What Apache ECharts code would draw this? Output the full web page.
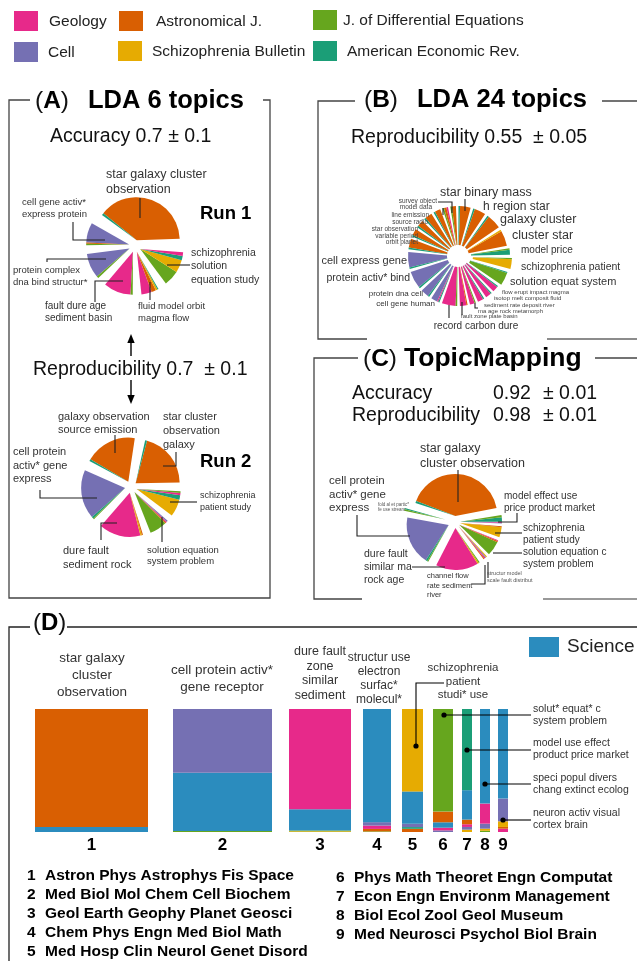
<!DOCTYPE html>
<html><head><meta charset="utf-8">
<script src="https://cdn.jsdelivr.net/npm/echarts@6/dist/echarts.min.js"></script>
<style>html,body{margin:0;padding:0;background:#fff}#c{width:637px;height:961px}</style>
</head><body><div id="c"></div>
<script>
// ---------------- DATA ----------------
const journalKeys = ['geo', 'astro', 'diffeq', 'cell', 'schizo', 'aer'];
const journalNames = ['Geology', 'Astronomical J.', 'J. of Differential Equations', 'Cell', 'Schizophrenia Bulletin', 'American Economic Rev.'];
const journalColors = ['#e7298a', '#d95f02', '#66a61e', '#7570b3', '#e6ab02', '#1b9e77'];
const scienceName = 'Science';
const scienceColor = '#2b8cbe';

// Pie topics: each topic = list of [journal, share in degrees], counter-clockwise order
const run1Topics = [
  [['astro', 139], ['aer', 3]],
  [['cell', 27], ['astro', 1.5], ['diffeq', 2]],
  [['cell', 33], ['diffeq', 3]],
  [['geo', 37], ['diffeq', 3]],
  [['geo', 14], ['astro', 6], ['schizo', 2.5], ['aer', 1.5]],
  [['diffeq', 21], ['schizo', 17], ['aer', 6], ['geo', 5]]
];
const run2Topics = [
  [['astro', 74], ['aer', 2.5]],
  [['astro', 68], ['aer', 2.5]],
  [['cell', 65], ['aer', 2.5], ['diffeq', 1.5]],
  [['geo', 55], ['schizo', 2], ['astro', 1.5]],
  [['diffeq', 23], ['astro', 1.5], ['geo', 1.5], ['cell', 1.5]],
  [['schizo', 23], ['aer', 6], ['geo', 3], ['diffeq', 2]]
];
const lda24Topics = [
  [['aer', 6], ['diffeq', 2]],            // model price
  [['astro', 19], ['schizo', 2]],         // cluster star
  [['astro', 18], ['aer', 2]],            // galaxy cluster
  [['astro', 14], ['aer', 2]],            // h region star
  [['astro', 13], ['aer', 2]],            // star binary mass
  [['astro', 5], ['diffeq', 2]],          // survey object
  [['geo', 2], ['astro', 3], ['diffeq', 2]], // model data
  [['astro', 7], ['aer', 2]],             // line emission
  [['astro', 9], ['aer', 2]],             // source radio
  [['astro', 8], ['aer', 2]],             // star observation
  [['astro', 8], ['aer', 2]],             // variable period
  [['astro', 11], ['aer', 2]],            // orbit planet
  [['cell', 19], ['aer', 2]],             // cell express gene
  [['cell', 21], ['aer', 2]],             // protein activ* bind
  [['cell', 10], ['aer', 2]],             // protein dna cell
  [['cell', 8], ['geo', 1.5], ['aer', 1.5]], // cell gene human
  [['geo', 17], ['diffeq', 2]],           // record carbon dure
  [['geo', 8], ['astro', 1.5]],           // fault zone plate basin
  [['geo', 6], ['diffeq', 1.5]],          // ma age rock metamorph
  [['geo', 7], ['aer', 1.5]],             // sediment rate deposit river
  [['geo', 7], ['aer', 1.5]],             // isotop melt composit fluid
  [['geo', 7], ['aer', 1.5]],             // flow erupt impact magma
  [['diffeq', 16], ['aer', 1.5]],         // solution equat system
  [['schizo', 12], ['diffeq', 1.5]]       // schizophrenia patient
];
const tmTopics = [
  [['astro', 148], ['aer', 3]],
  [['aer', 2], ['diffeq', 2]],
  [['cell', 67], ['aer', 2.5], ['diffeq', 1.5]],
  [['geo', 59], ['schizo', 2], ['diffeq', 1.5]],
  [['astro', 1.5], ['geo', 1.5], ['cell', 1.5], ['schizo', 1.5]],
  [['diffeq', 20], ['astro', 2], ['geo', 1]],
  [['schizo', 14], ['astro', 1.5]],
  [['cell', 1], ['geo', 1.5], ['aer', 6], ['diffeq', 3]]
];

// Panel D: cluster sizes and journal composition (percent, bottom -> top)
const barNumbers = ['1', '2', '3', '4', '5', '6', '7', '8', '9'];
const barSizes = [113, 99, 62, 28, 21, 20, 10, 10, 10];
const barParts = [
  [['sci', 4], ['astro', 96]],
  [['diffeq', 0.8], ['sci', 47.4], ['cell', 51.8]],
  [['schizo', 0.6], ['diffeq', 0.6], ['sci', 17.3], ['geo', 81.5]],
  [['diffeq', 0.5], ['astro', 2], ['geo', 2.7], ['cell', 2.8], ['sci', 92]],
  [['astro', 2.6], ['aer', 1.4], ['cell', 2.7], ['sci', 26.3], ['schizo', 67]],
  [['cell', 1.3], ['geo', 2.2], ['sci', 4.4], ['astro', 8.7], ['diffeq', 83.4]],
  [['schizo', 1.9], ['cell', 2.2], ['geo', 2.2], ['astro', 3.8], ['sci', 23.9], ['aer', 66]],
  [['diffeq', 1], ['schizo', 1.7], ['cell', 4.1], ['geo', 16.3], ['sci', 76.9]],
  [['geo', 2.7], ['astro', 1.4], ['schizo', 4.6], ['cell', 18.5], ['sci', 72.8]]
];
const fieldList = [
  'Astron Phys Astrophys Fis Space', 'Med Biol Mol Chem Cell Biochem', 'Geol Earth Geophy Planet Geosci',
  'Chem Phys Engn Med Biol Math', 'Med Hosp Clin Neurol Genet Disord', 'Phys Math Theoret Engn Computat',
  'Econ Engn Environm Management', 'Biol Ecol Zool Geol Museum', 'Med Neurosci Psychol Biol Brain'
];

// ---------------- STYLE / LAYOUT ----------------
const colorOf = {};
journalKeys.forEach((k, i) => colorOf[k] = journalColors[i]);
colorOf.sci = scienceColor;
const barGapsPx = [25, 17, 12, 11, 10, 9, 8, 8];
const FONT = '"Liberation Sans", Arial, Helvetica, sans-serif';
const G = [];
function txt(x, y, s, size, o) {
  o = o || {};
  G.push({type: 'text', silent: true, z: 20, x: x, y: y, style: {
    text: s, font: (o.bold ? 'bold ' : '') + size + 'px ' + FONT, fill: o.color || '#333',
    align: o.align || 'left', verticalAlign: 'middle', textAlign: o.align || 'left', textVerticalAlign: 'middle'}});
}
function lines(x, y, arr, size, lh, o) { arr.forEach((s, i) => txt(x, y + i * lh, s, size, o)); }
function pl(pts, o) {
  o = o || {};
  G.push({type: 'polyline', silent: true, z: 15, shape: {points: pts}, style: {stroke: o.color || '#222', lineWidth: o.w || 1.1, fill: null}});
}
function dot(x, y) { G.push({type: 'circle', silent: true, z: 16, shape: {cx: x, cy: y, r: 2.6}, style: {fill: '#000'}}); }
function rect(x, y, w, h, c) { G.push({type: 'rect', silent: true, z: 10, shape: {x: x, y: y, width: w, height: h}, style: {fill: c}}); }
function tri(p) { G.push({type: 'polygon', silent: true, z: 15, shape: {points: p}, style: {fill: '#000'}}); }
function title(x, y, letter, rest, size, restX, restSize) {
  G.push({type: 'text', silent: true, z: 20, x: x, y: y, style: {
    text: '{a|(}{b|' + letter + '}{a|)}', verticalAlign: 'middle', textVerticalAlign: 'middle',
    rich: {a: {font: (size - 1) + 'px ' + FONT, fill: '#111'}, b: {font: 'bold ' + (size - 1) + 'px ' + FONT, fill: '#000'}}}});
  if (rest) txt(restX, y, rest, restSize || size, {bold: true, color: '#000'});
}

function pieSeries(topics, cx, cy, r0, r, start, offs) {
  const total = topics.reduce((t, p) => t + p.reduce((u, q) => u + q[1], 0), 0);
  const gap = (360 - total) / topics.length;
  let a = start;
  const out = [];
  topics.forEach((p, i) => {
    const s = p.reduce((u, q) => u + q[1], 0);
    const mid = (a + s / 2) * Math.PI / 180;
    const off = Array.isArray(offs) ? offs[i] : offs;
    out.push({
      type: 'pie', silent: true, animation: false, clockwise: false,
      startAngle: ((a % 360) + 360) % 360,
      center: [cx + off * Math.cos(mid), cy - off * Math.sin(mid)], radius: [r0, r],
      label: {show: false}, labelLine: {show: false}, emphasis: {disabled: true},
      itemStyle: {borderWidth: 0},
      data: p.map(q => ({value: q[1], itemStyle: {color: colorOf[q[0]]}}))
        .concat([{value: 360 - s, itemStyle: {color: 'rgba(0,0,0,0)'}}])
    });
    a += s + gap;
  });
  return out;
}

// ---------------- LEGEND ----------------
const legPos = [[14, 11, 49], [119, 11, 156], [313, 10, 343], [14, 42, 48], [118, 41, 152], [313, 41, 347]];
const legOrder = [0, 1, 2, 3, 4, 5];
legOrder.forEach((j, i) => {
  const p = legPos[i];
  rect(p[0], p[1], 24, 20, journalColors[j]);
  txt(p[2], p[1] + 10.5, journalNames[j], 15.5, {color: '#222'});
});

// ---------------- PANEL A ----------------
const frameC = '#444';
pl([[30, 100], [9, 100], [9, 598], [270, 598], [270, 100], [263, 100]], {color: frameC, w: 1.3});
title(35, 101, 'A', 'LDA 6 topics', 25.5, 88);
txt(50, 137, 'Accuracy 0.7 \u00b1 0.1', 19.5, {color: '#111'});
lines(106, 175, ['star galaxy cluster', 'observation'], 12.5, 15);
lines(22, 202, ['cell gene activ*', 'express protein'], 9.5, 12);
txt(200, 214, 'Run 1', 18.5, {bold: true, color: '#000'});
lines(191, 253, ['schizophrenia', 'solution', 'equation study'], 10.5, 13.5);
lines(13, 270, ['protein complex', 'dna bind structur*'], 9.5, 12);
lines(45, 306, ['fault dure age', 'sediment basin'], 10, 12);
lines(138, 306, ['fluid model orbit', 'magma flow'], 9.5, 12);
pl([[140, 198], [140, 218]]);
pl([[73, 222], [73, 240], [105, 240]]);
pl([[47, 262], [47, 259], [106, 259]]);
pl([[95, 302], [95, 281], [123, 281]]);
pl([[150, 282], [150, 300]]);
pl([[167, 265], [190, 265]]);
// arrows
pl([[131, 341], [131, 356]], {color: '#000', w: 1.4});
tri([[131, 334], [127.3, 343], [134.7, 343]]);
pl([[131, 380], [131, 396]], {color: '#000', w: 1.4});
tri([[131, 404], [127.3, 395], [134.7, 395]]);
txt(33, 370, 'Reproducibility 0.7  \u00b1 0.1', 19.5, {color: '#111'});
lines(58, 417, ['galaxy observation', 'source emission'], 11, 13);
lines(163, 417, ['star cluster', 'observation', 'galaxy'], 11, 14);
txt(200, 462, 'Run 2', 18.5, {bold: true, color: '#000'});
lines(13, 452, ['cell protein', 'activ* gene', 'express'], 11, 13.5);
lines(200, 496, ['schizophrenia', 'patient study'], 9, 11.5);
lines(63, 551, ['dure fault', 'sediment rock'], 11, 13.5);
lines(147, 550, ['solution equation', 'system problem'], 9.5, 11.5);
pl([[115, 435], [115, 453]]);
pl([[176, 452], [176, 466], [163, 466]]);
pl([[40, 490], [40, 498], [97, 498]]);
pl([[170, 502], [197, 502]]);
pl([[117, 523], [101, 523], [101, 540]]);
pl([[162, 517], [162, 542]]);

// ---------------- PANEL B ----------------
pl([[355, 101], [318, 101], [318, 339], [367, 339]], {color: frameC, w: 1.3});
pl([[547, 339], [637, 339]], {color: '#666', w: 1.3});
pl([[602, 101], [637, 101]], {color: frameC, w: 1.3});
title(364, 100, 'B', 'LDA 24 topics', 25.5, 417);
txt(351, 138, 'Reproducibility 0.55  \u00b1 0.05', 19.5, {color: '#111'});
txt(440, 193, 'star binary mass', 12.5);
txt(483, 207, 'h region star', 12);
txt(500, 220, 'galaxy cluster', 12.5);
txt(512, 236, 'cluster star', 12.5);
txt(521, 250, 'model price', 10);
txt(521, 267, 'schizophrenia patient', 10.5);
txt(510, 282, 'solution equat system', 11);
txt(407, 261, 'cell express gene', 11, {align: 'right'});
txt(410, 278, 'protein activ* bind', 10.5, {align: 'right'});
txt(423, 294, 'protein dna cell', 8, {align: 'right'});
txt(435, 304, 'cell gene human', 8, {align: 'right'});
txt(476, 326, 'record carbon dure', 10, {align: 'center'});
const bSmallL = ['survey object', 'model data', 'line emission', 'source radio', 'star observation', 'variable period', 'orbit planet'];
const bSmallLX = [437, 432, 429, 428, 418, 418, 418];
const bSmallLY = [201, 207.5, 215, 222, 229, 236, 242];
bSmallL.forEach((s, i) => txt(bSmallLX[i], bSmallLY[i], s, 6.5, {align: 'right', color: '#444'}));
const bSmallR = ['flow erupt impact magma', 'isotop melt composit fluid', 'sediment rate deposit river', 'ma age rock metamorph', 'fault zone plate basin'];
const bSmallRX = [502, 494, 484, 478, 461];
const bSmallRY = [292, 298, 305, 311, 316.5];
bSmallR.forEach((s, i) => txt(bSmallRX[i], bSmallRY[i], s, 6, {color: '#444'}));
pl([[465, 199], [465, 211]]);
pl([[438, 202], [452, 202], [452, 213]]);
pl([[443, 208], [443, 215]]);
pl([[449, 305], [449, 318]]);
pl([[462, 302], [462, 315]]);
pl([[475, 303], [475, 308], [478, 308]]);

// ---------------- PANEL C ----------------
pl([[358, 358], [314, 358], [314, 599], [362, 599]], {color: frameC, w: 1.3});
pl([[543, 599], [637, 599]], {color: '#777', w: 1.3});
pl([[595, 358], [637, 358]], {color: frameC, w: 1.3});
title(363, 359, 'C', 'TopicMapping', 25.5, 404, 26.5);
txt(352, 394, 'Accuracy', 19.5, {color: '#111'});
txt(493, 394, '0.92', 19.5, {color: '#111'});
txt(543, 394, '\u00b1 0.01', 19.5, {color: '#111'});
txt(352, 416, 'Reproducibility', 19.5, {color: '#111'});
txt(493, 416, '0.98', 19.5, {color: '#111'});
txt(543, 416, '\u00b1 0.01', 19.5, {color: '#111'});
lines(420, 449, ['star galaxy', 'cluster observation'], 12.5, 14.5);
lines(329, 481, ['cell protein', 'activ* gene', 'express'], 11.5, 13.5);
lines(378, 505, ['fold al et partic*', 'fe use stream'], 4.5, 5, {color: '#555'});
lines(504, 496, ['model effect use', 'price product market'], 10, 12);
lines(523, 528, ['schizophrenia', 'patient study'], 10, 12);
lines(523, 552, ['solution equation c', 'system problem'], 10, 12);
lines(364, 554, ['dure fault', 'similar ma', 'rock age'], 10.5, 13);
lines(427, 576, ['channel flow', 'rate sediment', 'river'], 7.5, 9.5);
lines(487, 573, ['structur model', 'scale fault distribut'], 5.5, 7, {color: '#555'});
pl([[458, 470], [458, 502]]);
pl([[357, 515], [357, 536], [410, 536]]);
pl([[517, 513], [517, 522], [498, 522]]);
pl([[495, 533], [522, 533]]);
pl([[493, 553], [522, 553]]);
pl([[412, 567], [445, 567]]);
pl([[472, 584], [485, 584], [485, 565]]);
pl([[488, 562], [488, 578]]);

// ---------------- PANEL D ----------------
pl([[30, 627], [9, 627], [9, 961]], {color: '#222', w: 1.3});
pl([[67, 627], [637, 627]], {color: '#222', w: 1.3});
title(33, 623, 'D', null, 25);
rect(529, 637, 30, 20, scienceColor);
txt(567, 647, scienceName, 19, {color: '#222'});
lines(92, 658, ['star galaxy', 'cluster', 'observation'], 13.5, 17, {align: 'center'});
lines(222, 670, ['cell protein activ*', 'gene receptor'], 13.5, 17, {align: 'center'});
lines(320, 652, ['dure fault', 'zone', 'similar', 'sediment'], 12.5, 14.5, {align: 'center'});
lines(379, 658, ['structur use', 'electron', 'surfac*', 'molecul*'], 12, 14, {align: 'center'});
lines(463, 668, ['schizophrenia', 'patient', 'studi* use'], 11.5, 13.5, {align: 'center'});
lines(533, 709, ['solut* equat* c', 'system problem'], 10.5, 12.5);
lines(533, 743, ['model use effect', 'product price market'], 10.5, 12.5);
lines(533, 778, ['speci popul divers', 'chang extinct ecolog'], 10.5, 12.5);
lines(533, 813, ['neuron activ visual', 'cortex brain'], 10.5, 12.5);
pl([[444, 715], [531, 715]], {color: '#000'}); dot(444, 715);
pl([[467, 750], [531, 750]], {color: '#000'}); dot(467, 750);
pl([[485, 784], [531, 784]], {color: '#000'}); dot(485, 784);
pl([[503, 820], [531, 820]], {color: '#000'}); dot(503, 820);
pl([[416, 746], [416, 683], [444, 683]], {color: '#000'}); dot(416, 746);
fieldList.forEach((s, i) => {
  const left = i < 5;
  const x0 = left ? 27 : 336, y0 = left ? 876 + i * 19 : 878 + (i - 5) * 19;
  txt(x0, y0, String(i + 1), 15.5, {bold: true, color: '#000'});
  txt(x0 + 18, y0, s, 15.5, {bold: true, color: '#000'});
});

// bars data (x from cumulative sizes + gaps)
const rectData = [], numData = [];
let xc = 0;
barSizes.forEach((w, i) => {
  let yc = 0;
  barParts[i].forEach(p => {
    rectData.push([xc, xc + w, yc, yc + p[1], p[0]]);
    yc += p[1];
  });
  numData.push([xc + w / 2, 0, barNumbers[i]]);
  xc += w + (i < barGapsPx.length ? barGapsPx[i] : 0);
});
const totalX = xc;

const series = []
  .concat(pieSeries(run1Topics, 135, 246, 0, 43, 2, 6))
  .concat(pieSeries(run2Topics, 131, 487, 0, 44, 1, 6))
  .concat(pieSeries(lda24Topics, 458, 256, 8, 47, 1, [5, 3, 3, 3, 3, 3, 3, 3, 3, 3, 3, 3, 3, 3, 3, 3, 3, 3, 3, 3, 3, 3, 5, 7]))
  .concat(pieSeries(tmTopics, 455, 522, 0, 42, 11, [6, 10, 7, 6, 5, 5, 5, 5]));

series.push({
  type: 'custom', xAxisIndex: 0, yAxisIndex: 0, silent: true, animation: false,
  data: rectData,
  renderItem: function (params, api) {
    const p0 = api.coord([api.value(0), api.value(3)]);
    const p1 = api.coord([api.value(1), api.value(2)]);
    return {type: 'rect', shape: {x: p0[0], y: p0[1], width: p1[0] - p0[0], height: p1[1] - p0[1]},
      style: {fill: colorOf[rectData[params.dataIndex][4]]}};
  }
});
series.push({
  type: 'custom', xAxisIndex: 0, yAxisIndex: 0, silent: true, animation: false,
  data: numData,
  renderItem: function (params, api) {
    const p = api.coord([api.value(0), 0]);
    return {type: 'text', x: p[0], y: p[1] + 13, style: {text: numData[params.dataIndex][2],
      font: 'bold 17px ' + FONT, fill: '#000', align: 'center', verticalAlign: 'middle',
      textAlign: 'center', textVerticalAlign: 'middle'}};
  }
});

const chart = echarts.init(document.getElementById('c'), null, {renderer: 'canvas'});
chart.setOption({
  animation: false,
  backgroundColor: '#fff',
  grid: {left: 35, top: 709, width: 473, height: 123, containLabel: false},
  xAxis: {type: 'value', min: 0, max: totalX, show: false},
  yAxis: {type: 'value', min: 0, max: 100, show: false},
  series: series,
  graphic: {elements: G}
});
</script></body></html>
